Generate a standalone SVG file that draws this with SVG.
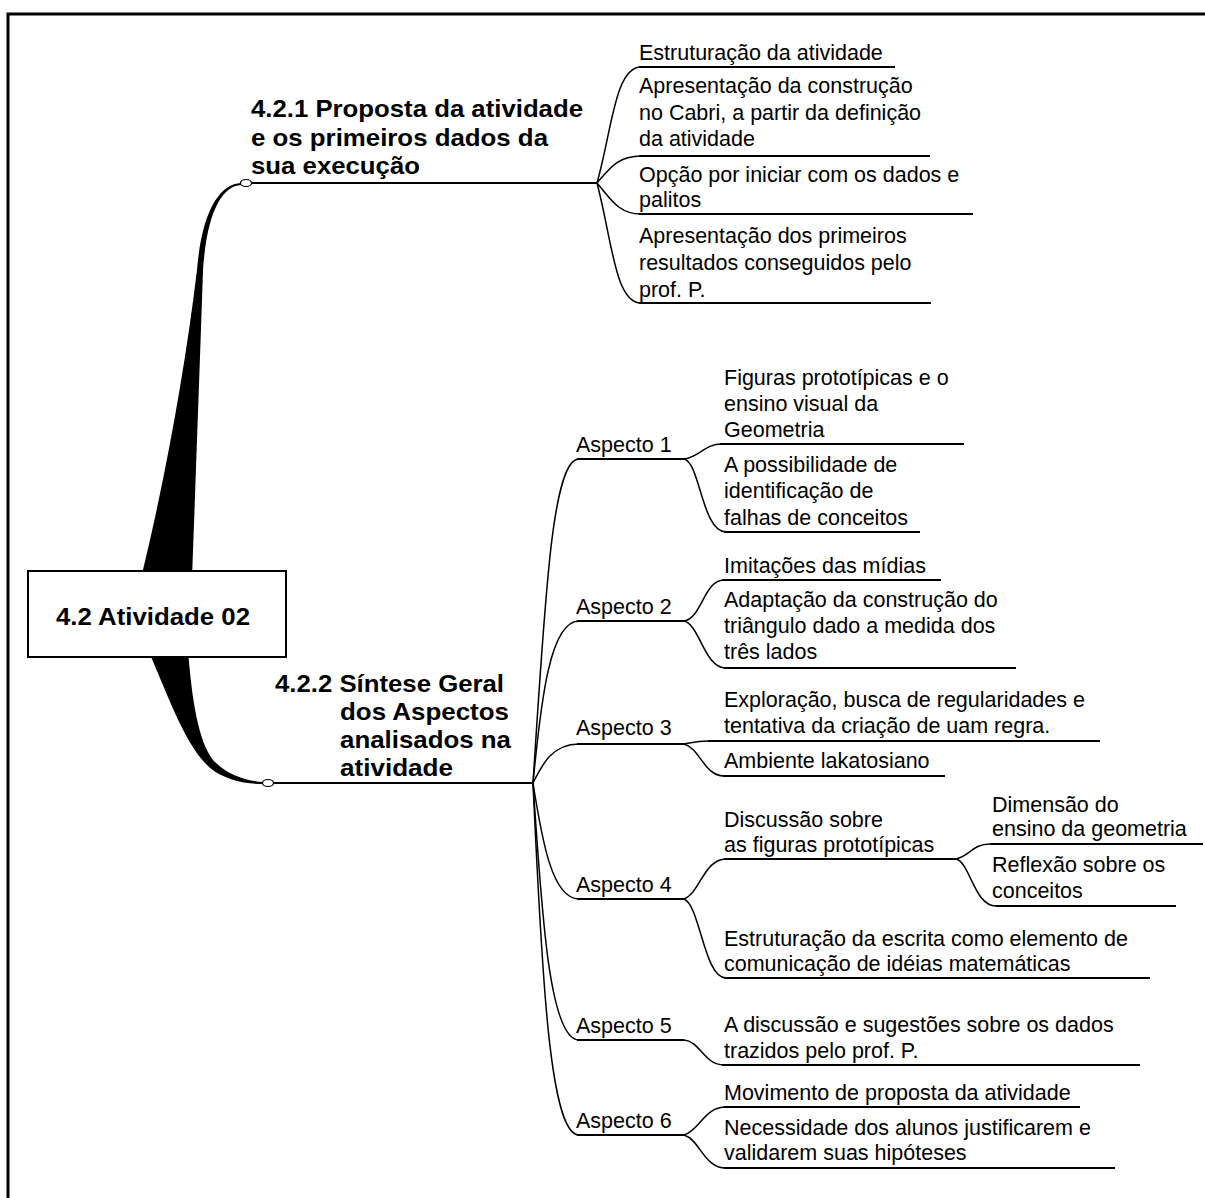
<svg xmlns="http://www.w3.org/2000/svg" width="1205" height="1198" viewBox="0 0 1205 1198">
<style>
.t{font-family:"Liberation Sans",Arial,sans-serif;font-size:21.5px;fill:#000}
.b{font-family:"Liberation Sans",Arial,sans-serif;font-size:24px;font-weight:bold;fill:#000}
.ul{stroke:#000;stroke-width:1.8;fill:none}
.c{stroke:#000;stroke-width:1.5;fill:none}
.knob{fill:#fff;stroke:#000;stroke-width:1.2}
</style>
<rect x="0" y="0" width="1205" height="1198" fill="#fff"/>
<path d="M8,1198 V14 H1205" fill="none" stroke="#000" stroke-width="3"/>

<g id="connectors">
  <path d="M141,578 C165,480 185,370 197,270 C202,210 220,184 241,183 L241,185 C222,186 207,212 203,270 C200,360 196,470 192,578 Z" fill="#000"/>
  <path d="M148,650 C170,700 185,745 210,768 C225,780 245,784 263,784 L263,782 C248,781 228,776 213,760 C198,740 192,700 188,650 Z" fill="#000"/>
  <path class="c" d="M597,183 C612,130 615,67 641,67"/>
  <path class="c" d="M597,183 C610,168 618,156 641,156"/>
  <path class="c" d="M597,183 C610,198 618,214 641,214"/>
  <path class="c" d="M597,183 C612,240 615,303 641,303"/>
  <path class="c" d="M533,783 C545,600 552,459 579,459"/>
  <path class="c" d="M533,783 C541,700 550,621 579,621"/>
  <path class="c" d="M533,783 C542,765 552,744 579,744"/>
  <path class="c" d="M533,783 C542,840 552,899 579,899"/>
  <path class="c" d="M533,783 C542,920 550,1040 579,1040"/>
  <path class="c" d="M533,783 C542,980 550,1135 579,1135"/>
  <path class="c" d="M684,459 C700,457 704,444 722,444"/>
  <path class="c" d="M684,459 C700,462 702,532 726,532"/>
  <path class="c" d="M684,621 C702,618 704,580 724,580"/>
  <path class="c" d="M684,621 C700,625 704,668 726,668"/>
  <path class="c" d="M684,744 C695,742 698,741 708,741"/>
  <path class="c" d="M684,744 C700,748 704,776 724,776"/>
  <path class="c" d="M684,899 C700,893 704,859 726,859"/>
  <path class="c" d="M684,899 C700,905 704,978 726,978"/>
  <path class="c" d="M956,859 C970,856 972,844 990,844"/>
  <path class="c" d="M956,859 C970,862 974,906 996,906"/>
  <path class="c" d="M684,1040 C700,1041 704,1065 724,1065"/>
  <path class="c" d="M684,1135 C700,1130 704,1107 726,1107"/>
  <path class="c" d="M684,1135 C700,1140 704,1168 726,1168"/>
</g>

<g id="root">
  <rect x="28" y="571" width="258" height="86" fill="#fff" stroke="#000" stroke-width="2"/>
  <text class="b" x="56" y="625" textLength="194" lengthAdjust="spacingAndGlyphs">4.2 Atividade 02</text>
</g>

<g id="topic-421">
  <line class="ul" x1="251" y1="183" x2="597" y2="183"/>
  <ellipse class="knob" cx="246" cy="183" rx="5.5" ry="3.5"/>
  <text class="b" x="251" y="117" textLength="332" lengthAdjust="spacingAndGlyphs">4.2.1 Proposta da atividade</text>
  <text class="b" x="251" y="146" textLength="297" lengthAdjust="spacingAndGlyphs">e os primeiros dados da</text>
  <text class="b" x="251" y="174" textLength="169" lengthAdjust="spacingAndGlyphs">sua execução</text>
</g>

<g id="topic-422">
  <line class="ul" x1="273" y1="783" x2="533" y2="783"/>
  <ellipse class="knob" cx="268" cy="783" rx="5.5" ry="3.5"/>
  <text class="b" x="275" y="692" textLength="229" lengthAdjust="spacingAndGlyphs">4.2.2 Síntese Geral</text>
  <text class="b" x="340" y="720" textLength="169" lengthAdjust="spacingAndGlyphs">dos Aspectos</text>
  <text class="b" x="340" y="748" textLength="171" lengthAdjust="spacingAndGlyphs">analisados na</text>
  <text class="b" x="340" y="776" textLength="113" lengthAdjust="spacingAndGlyphs">atividade</text>
</g>

<g id="n-estruturacao-atividade">
  <text class="t" x="639" y="60">Estruturação da atividade</text>
  <line class="ul" x1="639" y1="67" x2="895" y2="67"/>
</g>
<g id="n-apresentacao-construcao">
  <text class="t" x="639" y="93">Apresentação da construção</text>
  <text class="t" x="639" y="120">no Cabri, a partir da definição</text>
  <text class="t" x="639" y="146">da atividade</text>
  <line class="ul" x1="639" y1="156" x2="930" y2="156"/>
</g>
<g id="n-opcao">
  <text class="t" x="639" y="182">Opção por iniciar com os dados e</text>
  <text class="t" x="639" y="207">palitos</text>
  <line class="ul" x1="639" y1="214" x2="973" y2="214"/>
</g>
<g id="n-apresentacao-resultados">
  <text class="t" x="639" y="243">Apresentação dos primeiros</text>
  <text class="t" x="639" y="270">resultados conseguidos pelo</text>
  <text class="t" x="639" y="297">prof. P.</text>
  <line class="ul" x1="639" y1="303" x2="931" y2="303"/>
</g>

<g id="aspecto-1">
  <text class="t" x="576" y="452">Aspecto 1</text>
  <line class="ul" x1="577" y1="459" x2="684" y2="459"/>
</g>
<g id="aspecto-2">
  <text class="t" x="576" y="614">Aspecto 2</text>
  <line class="ul" x1="577" y1="621" x2="684" y2="621"/>
</g>
<g id="aspecto-3">
  <text class="t" x="576" y="735">Aspecto 3</text>
  <line class="ul" x1="577" y1="744" x2="684" y2="744"/>
</g>
<g id="aspecto-4">
  <text class="t" x="576" y="892">Aspecto 4</text>
  <line class="ul" x1="577" y1="899" x2="684" y2="899"/>
</g>
<g id="aspecto-5">
  <text class="t" x="576" y="1033">Aspecto 5</text>
  <line class="ul" x1="577" y1="1040" x2="684" y2="1040"/>
</g>
<g id="aspecto-6">
  <text class="t" x="576" y="1128">Aspecto 6</text>
  <line class="ul" x1="577" y1="1135" x2="684" y2="1135"/>
</g>

<g id="n-figuras">
  <text class="t" x="724" y="385">Figuras prototípicas e o</text>
  <text class="t" x="724" y="411">ensino visual da</text>
  <text class="t" x="724" y="437">Geometria</text>
  <line class="ul" x1="720" y1="444" x2="964" y2="444"/>
</g>
<g id="n-possibilidade">
  <text class="t" x="724" y="472">A possibilidade de</text>
  <text class="t" x="724" y="498">identificação de</text>
  <text class="t" x="724" y="525">falhas de conceitos</text>
  <line class="ul" x1="724" y1="532" x2="920" y2="532"/>
</g>
<g id="n-imitacoes">
  <text class="t" x="724" y="573">Imitações das mídias</text>
  <line class="ul" x1="722" y1="580" x2="941" y2="580"/>
</g>
<g id="n-adaptacao">
  <text class="t" x="724" y="607">Adaptação da construção do</text>
  <text class="t" x="724" y="633">triângulo dado a medida dos</text>
  <text class="t" x="724" y="659">três lados</text>
  <line class="ul" x1="724" y1="668" x2="1016" y2="668"/>
</g>
<g id="n-exploracao">
  <text class="t" x="724" y="707">Exploração, busca de regularidades e</text>
  <text class="t" x="724" y="733">tentativa da criação de uam regra.</text>
  <line class="ul" x1="708" y1="741" x2="1100" y2="741"/>
</g>
<g id="n-ambiente">
  <text class="t" x="724" y="768">Ambiente lakatosiano</text>
  <line class="ul" x1="723" y1="776" x2="945" y2="776"/>
</g>
<g id="n-discussao">
  <text class="t" x="724" y="827">Discussão sobre</text>
  <text class="t" x="724" y="852">as figuras prototípicas</text>
  <line class="ul" x1="724" y1="859" x2="956" y2="859"/>
</g>
<g id="n-dimensao">
  <text class="t" x="992" y="812">Dimensão do</text>
  <text class="t" x="992" y="836">ensino da geometria</text>
  <line class="ul" x1="990" y1="844" x2="1203" y2="844"/>
</g>
<g id="n-reflexao">
  <text class="t" x="992" y="872">Reflexão sobre os</text>
  <text class="t" x="992" y="898">conceitos</text>
  <line class="ul" x1="996" y1="906" x2="1176" y2="906"/>
</g>
<g id="n-estruturacao-escrita">
  <text class="t" x="724" y="946">Estruturação da escrita como elemento de</text>
  <text class="t" x="724" y="971">comunicação de idéias matemáticas</text>
  <line class="ul" x1="724" y1="978" x2="1150" y2="978"/>
</g>
<g id="n-discussao-sugestoes">
  <text class="t" x="724" y="1032">A discussão e sugestões sobre os dados</text>
  <text class="t" x="724" y="1058">trazidos pelo prof. P.</text>
  <line class="ul" x1="722" y1="1065" x2="1140" y2="1065"/>
</g>
<g id="n-movimento">
  <text class="t" x="724" y="1100">Movimento de proposta da atividade</text>
  <line class="ul" x1="724" y1="1107" x2="1080" y2="1107"/>
</g>
<g id="n-necessidade">
  <text class="t" x="724" y="1135">Necessidade dos alunos justificarem e</text>
  <text class="t" x="724" y="1160">validarem suas hipóteses</text>
  <line class="ul" x1="724" y1="1168" x2="1115" y2="1168"/>
</g>
</svg>
